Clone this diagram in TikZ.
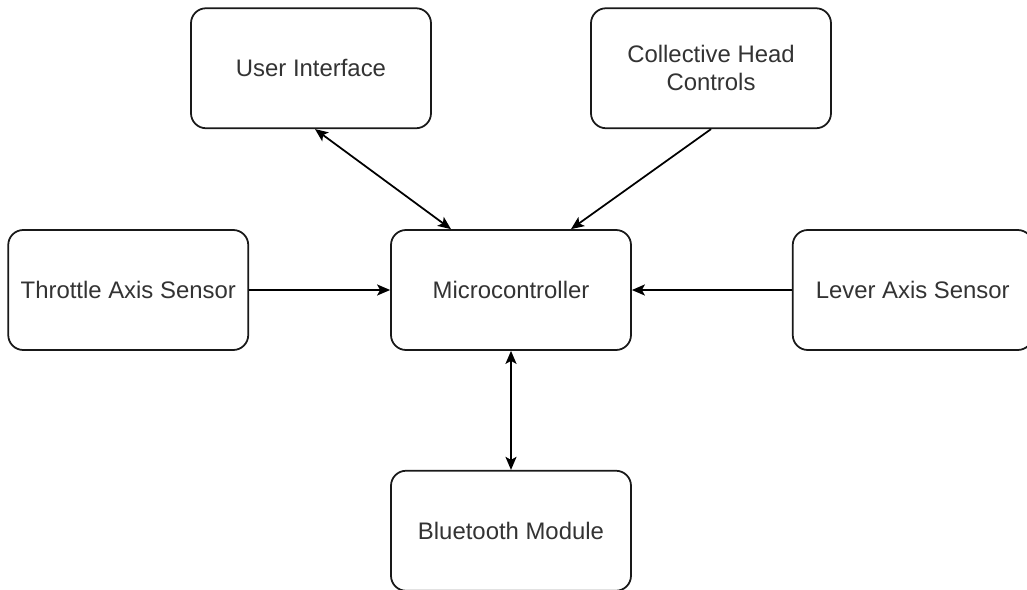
\documentclass[tikz,border=0pt]{standalone}
\usepackage{fontspec}
\setmainfont{Liberation Sans}
\usepackage{tikz}
\usetikzlibrary{positioning}
\usetikzlibrary{arrows.meta}
\definecolor{txtgray}{rgb}{0.2,0.2,0.2}

\begin{document}
\begin{tikzpicture}[
            > = {Stealth[length=0.26cm, width=0.22cm, inset=0.06cm]}, % arrow head style
            node distance = 2cm, % distance between nodes
            line width = 1pt % line style
            ]

        \tikzstyle{every node}=[
            draw = black!90,
            line width = 1pt,
            rounded corners = 0.3cm,
            fill = white,
            text = txtgray,
            align = center,
            minimum width = 4.8cm,
            minimum height = 2.4cm,
            font = \fontsize{13.6}{16}\selectfont
        ]

        % page frame
        \useasboundingbox (0,0) rectangle (20.54,-11.8);

	% central unit
        \node (MC) at (10.22,-5.8) {Microcontroller};

	% inputs on both sides
        \node (TS) [left = 2.82cm of MC] {Throttle Axis Sensor};
        \node (LS) [right = 3.2cm of MC] {Lever Axis Sensor};

        \path[->] (TS) edge (MC);
        \path[->] (LS) edge (MC);

	% top row
        \node (UI) [above = 2cm of MC, xshift=-4cm] {User Interface};
        \node (CH) [above = 2cm of MC, xshift=4cm] {Collective Head\\Controls};

        \path[<->] ([xshift=0.08cm]UI.south) edge ([xshift=-1.2cm]MC.north);
        \path[->] (CH.south) edge ([xshift=1.2cm]MC.north);

	% radio link
        \node (BT) [below = 2.4cm of MC, yshift=0.02cm] {Bluetooth Module};
        \path[<->] (MC) edge (BT);

  \end{tikzpicture}
\end{document}
